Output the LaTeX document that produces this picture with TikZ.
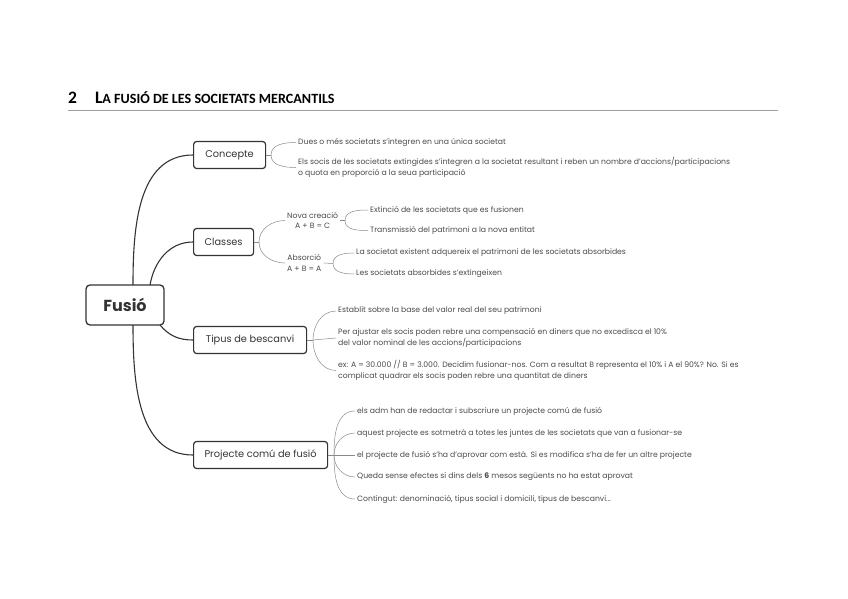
\documentclass[tikz,border=0pt]{standalone}
\usepackage{fontspec}
\setmainfont{Poppins}
\newfontfamily\titlefont{Carlito}
\definecolor{boxc}{HTML}{333333}
\definecolor{txtc}{HTML}{4A4A4A}
\definecolor{linec}{HTML}{8A8A8A}
\definecolor{rulec}{HTML}{A0A0A0}
\begin{document}
\begin{tikzpicture}[x=1pt,y=-1pt,
  topic/.style={draw=boxc,line width=1.2pt,rounded corners=3pt,text=boxc,font=\fontsize{9.8}{11}\selectfont,minimum height=27pt,inner xsep=10pt},
  leaf/.style={anchor=west,inner xsep=2pt,inner ysep=1pt,text=txtc,font=\fontsize{7.7}{10.5}\selectfont,align=left},
  mainline/.style={draw=boxc,line width=1.1pt},
  thin/.style={draw=linec,line width=0.5pt}]
\useasboundingbox (0,0) rectangle (848,599);
% title
\node[anchor=base west,inner sep=0,text=black] (title) at (68,104)
  {\titlefont\bfseries\fontsize{17.5}{19}\selectfont 2\hspace{18pt}L\fontsize{14.1}{15}\selectfont A FUSIÓ DE LES SOCIETATS MERCANTILS};
\coordinate (rl) at (68,110);
\coordinate (rr) at (778,110);
\draw[rulec,line width=0.9pt] (rl) -- (rr);
% central
\node[draw=boxc,line width=1.3pt,rounded corners=4pt,text=boxc,font=\fontsize{16}{18}\selectfont\bfseries,minimum width=78pt,minimum height=40pt] (fusio) at (125,305) {Fusió};
% topics
\node[topic,anchor=west,minimum width=72pt] (concepte) at (193,155) {Concepte};
\node[topic,anchor=west,minimum width=60pt] (classes) at (193,242) {Classes};
\node[topic,anchor=west,minimum width=113pt] (tipus) at (193,340) {Tipus de bescanvi};
\node[topic,anchor=west,minimum width=134pt] (projecte) at (193,455) {Projecte comú de fusió};
% main curves
\draw[mainline] (133,285) coordinate (fa) to[out=90,in=180] (concepte.west);
\draw[mainline] (150,285) coordinate (fb) to[out=80,in=180] (classes.west);
\draw[mainline] (160,325) coordinate (fc) to[out=-50,in=180] (tipus.west);
\draw[mainline] (133,325) coordinate (fd) to[out=-90,in=180] (projecte.west);
% Concepte leaves
\node[leaf] (c1) at (296,142.5) {Dues o més societats s'integren en una única societat};
\node[leaf] (c2) at (296,167.5) {Els socis de les societats extingides s'integren a la societat resultant i reben un nombre d'accions/participacions\\o quota en proporció a la seua participació};
\coordinate (cC) at (271,155);
\draw[thin] (concepte.east) -- (cC);
\draw[thin] (cC) to[out=90,in=180] (c1.west);
\draw[thin] (cC) to[out=-90,in=180] (c2.west);
% Classes
\node[leaf,align=center] (nova) at (285,220.5) {Nova creació\\A + B = C};
\node[leaf,align=center] (abs) at (285,263) {Absorció\\A + B = A};
\coordinate (clC) at (259,242);
\draw[thin] (classes.east) -- (clC);
\draw[thin] (clC) to[out=90,in=180] (nova.west);
\draw[thin] (clC) to[out=-90,in=180] (abs.west);
\node[leaf] (n1) at (368,210) {Extinció de les societats que es fusionen};
\node[leaf] (n2) at (368,230.5) {Transmissió del patrimoni a la nova entitat};
\coordinate (nC) at (345,220.5);
\draw[thin] (nova.east) -- (nC);
\draw[thin] (nC) to[out=90,in=180] (n1.west);
\draw[thin] (nC) to[out=-90,in=180] (n2.west);
\node[leaf] (a1) at (354,253) {La societat existent adquereix el patrimoni de les societats absorbides};
\node[leaf] (a2) at (354,274) {Les societats absorbides s'extingeixen};
\coordinate (aC) at (333,263.5);
\draw[thin] (abs.east) -- (aC);
\draw[thin] (aC) to[out=90,in=180] (a1.west);
\draw[thin] (aC) to[out=-90,in=180] (a2.west);
% Tipus
\node[leaf] (t1) at (336,311) {Establit sobre la base del valor real del seu patrimoni};
\node[leaf] (t2) at (336,338) {Per ajustar els socis poden rebre una compensació en diners que no excedisca el 10\%\\del valor nominal de les accions/participacions};
\node[leaf] (t3) at (336,370.5) {ex: A = 30.000 // B = 3.000. Decidim fusionar-nos. Com a resultat B representa el 10\% i A el 90\%? No. Si es\\complicat quadrar els socis poden rebre una quantitat de diners};
\coordinate (tC) at (313,340);
\draw[thin] (tipus.east) -- (tC);
\draw[thin] (tC) to[out=90,in=180] (t1.west);
\draw[thin] (tC) -- (t2.west);
\draw[thin] (tC) to[out=-90,in=180] (t3.west);
% Projecte
\node[leaf] (p1) at (355,411) {els adm han de redactar i subscriure un projecte comú de fusió};
\node[leaf] (p2) at (355,433) {aquest projecte es sotmetrà a totes les juntes de les societats que van a fusionar-se};
\node[leaf] (p3) at (355,455) {el projecte de fusió s'ha d'aprovar com està. Si es modifica s'ha de fer un altre projecte};
\node[leaf] (p4) at (355,477) {Queda sense efectes si dins dels \textbf{6} mesos següents no ha estat aprovat};
\node[leaf] (p5) at (355,499) {Contingut: denominació, tipus social i domicili, tipus de bescanvi...};
\coordinate (pC) at (334,455);
\draw[thin] (projecte.east) -- (pC);
\draw[thin] (pC) to[out=90,in=180] (p1.west);
\draw[thin] (pC) to[out=90,in=180] (p2.west);
\draw[thin] (pC) -- (p3.west);
\draw[thin] (pC) to[out=-90,in=180] (p4.west);
\draw[thin] (pC) to[out=-90,in=180] (p5.west);
\end{tikzpicture}
\end{document}
